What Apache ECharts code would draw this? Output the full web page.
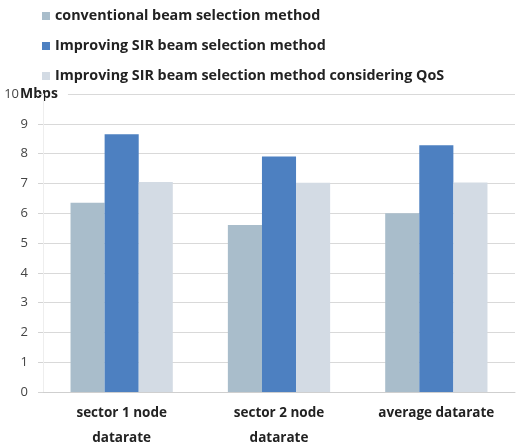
<!DOCTYPE html>
<html>
<head>
<meta charset="utf-8">
<script src="https://cdn.jsdelivr.net/npm/echarts@6/dist/echarts.min.js"></script>
<style>
  html, body { margin: 0; padding: 0; background: #fff; }
  #chart { width: 524px; height: 446px; }
</style>
</head>
<body>
<div id="chart"></div>
<script>
// categories along the x axis
const categories = ['sector 1 node\ndatarate', 'sector 2 node\ndatarate', 'average datarate']
const seriesNames = [
  'conventional beam selection method',
  'Improving SIR beam selection method',
  'Improving SIR beam selection method considering QoS'
]
// datarate in Mbps
const conventional = [6.35, 5.6, 6.0]
const improvingSir = [8.65, 7.9, 8.28]
const improvingSirQos = [7.05, 7.02, 7.03]
const yTicks = [0, 10, 1]  // min, max, interval

const colors = ['#a9bdcb', '#4d80c1', '#d3dbe4']
const fontFamily = '"Open Sans", "Noto Sans", sans-serif'

const chart = echarts.init(document.getElementById('chart'))

const option = {
  animation: false,
  backgroundColor: '#fff',
  color: colors,
  legend: {
    orient: 'vertical',
    left: 37,
    top: 3,
    itemGap: 14,
    itemWidth: 8,
    itemHeight: 8,
    icon: 'rect',
    textStyle: {
      fontFamily: fontFamily,
      fontWeight: 'bold',
      fontSize: 14.3,
      lineHeight: 16,
      color: '#222'
    },
    data: seriesNames
  },
  grid: {
    left: 43,
    right: 9,
    top: 94,
    bottom: 54,
    outerBoundsMode: 'none'
  },
  xAxis: {
    type: 'category',
    data: categories,
    axisTick: { show: false },
    axisLine: { lineStyle: { color: '#cfcfcf', width: 1 } },
    axisLabel: {
      interval: 0,
      margin: 9,
      fontFamily: fontFamily,
      fontWeight: 'bold',
      fontSize: 13.5,
      lineHeight: 24.5,
      color: '#222'
    }
  },
  yAxis: {
    type: 'value',
    min: yTicks[0],
    max: yTicks[1],
    interval: yTicks[2],
    name: 'Mbps',
    nameLocation: 'end',
    nameGap: 0,
    nameMoveOverlap: false,
    nameTextStyle: {
      align: 'center',
      verticalAlign: 'middle',
      fontFamily: fontFamily,
      fontWeight: 'bold',
      fontSize: 14,
      color: '#222',
      backgroundColor: '#fff',
      padding: [0, 10, 0, 2]
    },
    axisLine: { show: true, lineStyle: { color: '#eeeeee' } },
    axisTick: { show: true, length: 5, lineStyle: { color: '#d4d4d4' } },
    axisLabel: {
      margin: 15,
      fontFamily: fontFamily,
      fontSize: 13,
      color: '#444',
      formatter: function (v) {
        return v === yTicks[1] ? '{t|' + v + '}' : String(v)
      },
      rich: {
        t: { fontFamily: fontFamily, fontSize: 13, color: '#444', padding: [0, 9, 0, 0] }
      }
    },
    splitLine: { lineStyle: { color: '#d9d9d9', width: 1 } }
  },
  series: [
    { name: seriesNames[0], type: 'bar', data: conventional, barGap: '0%', barCategoryGap: '35%' },
    { name: seriesNames[1], type: 'bar', data: improvingSir, barGap: '0%', barCategoryGap: '35%' },
    { name: seriesNames[2], type: 'bar', data: improvingSirQos, barGap: '0%', barCategoryGap: '35%' }
  ]
}

chart.setOption(option)
</script>
</body>
</html>
